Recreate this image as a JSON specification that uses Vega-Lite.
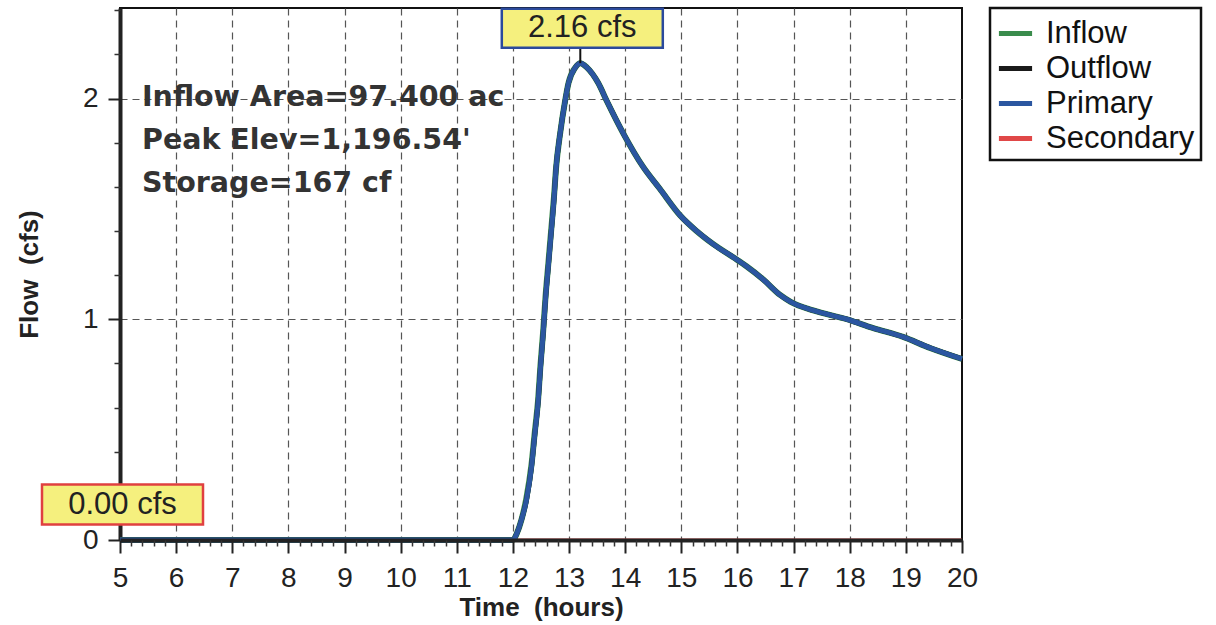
{
  "$schema": "https://vega.github.io/schema/vega-lite/v6.json",
  "width": 842,
  "height": 532,
  "autosize": {"type": "none"},
  "padding": {"left": 120, "top": 8, "right": 254, "bottom": 85},
  "background": "white",
  "config": {
    "font": "Liberation Sans",
    "view": {"stroke": "#111", "strokeWidth": 2}
  },
  "layer": [
    {
      "data": {"values": [
        {"t": 5, "Inflow": 0, "Outflow": 0, "Primary": 0, "Secondary": 0},
        {"t": 6, "Inflow": 0, "Outflow": 0, "Primary": 0, "Secondary": 0},
        {"t": 7, "Inflow": 0, "Outflow": 0, "Primary": 0, "Secondary": 0},
        {"t": 8, "Inflow": 0, "Outflow": 0, "Primary": 0, "Secondary": 0},
        {"t": 9, "Inflow": 0, "Outflow": 0, "Primary": 0, "Secondary": 0},
        {"t": 10, "Inflow": 0, "Outflow": 0, "Primary": 0, "Secondary": 0},
        {"t": 11, "Inflow": 0, "Outflow": 0, "Primary": 0, "Secondary": 0},
        {"t": 11.9, "Inflow": 0, "Outflow": 0, "Primary": 0, "Secondary": 0},
        {"t": 12.0, "Inflow": 0, "Outflow": 0, "Primary": 0, "Secondary": 0},
        {"t": 12.07, "Inflow": 0.03, "Outflow": 0.03, "Primary": 0.03, "Secondary": 0},
        {"t": 12.15, "Inflow": 0.09, "Outflow": 0.09, "Primary": 0.09, "Secondary": 0},
        {"t": 12.24, "Inflow": 0.19, "Outflow": 0.18, "Primary": 0.18, "Secondary": 0},
        {"t": 12.33, "Inflow": 0.34, "Outflow": 0.33, "Primary": 0.33, "Secondary": 0},
        {"t": 12.39, "Inflow": 0.49, "Outflow": 0.48, "Primary": 0.48, "Secondary": 0},
        {"t": 12.45, "Inflow": 0.64, "Outflow": 0.63, "Primary": 0.63, "Secondary": 0},
        {"t": 12.49, "Inflow": 0.79, "Outflow": 0.78, "Primary": 0.78, "Secondary": 0},
        {"t": 12.54, "Inflow": 0.95, "Outflow": 0.94, "Primary": 0.94, "Secondary": 0},
        {"t": 12.58, "Inflow": 1.1, "Outflow": 1.09, "Primary": 1.09, "Secondary": 0},
        {"t": 12.63, "Inflow": 1.25, "Outflow": 1.24, "Primary": 1.24, "Secondary": 0},
        {"t": 12.68, "Inflow": 1.4, "Outflow": 1.39, "Primary": 1.39, "Secondary": 0},
        {"t": 12.73, "Inflow": 1.55, "Outflow": 1.54, "Primary": 1.54, "Secondary": 0},
        {"t": 12.77, "Inflow": 1.69, "Outflow": 1.69, "Primary": 1.69, "Secondary": 0},
        {"t": 12.84, "Inflow": 1.84, "Outflow": 1.84, "Primary": 1.84, "Secondary": 0},
        {"t": 12.93, "Inflow": 1.99, "Outflow": 1.99, "Primary": 1.99, "Secondary": 0},
        {"t": 12.99, "Inflow": 2.07, "Outflow": 2.07, "Primary": 2.07, "Secondary": 0},
        {"t": 13.11, "Inflow": 2.14, "Outflow": 2.14, "Primary": 2.14, "Secondary": 0},
        {"t": 13.2, "Inflow": 2.16, "Outflow": 2.16, "Primary": 2.16, "Secondary": 0},
        {"t": 13.32, "Inflow": 2.14, "Outflow": 2.14, "Primary": 2.14, "Secondary": 0},
        {"t": 13.52, "Inflow": 2.07, "Outflow": 2.07, "Primary": 2.07, "Secondary": 0},
        {"t": 13.67, "Inflow": 1.99, "Outflow": 1.99, "Primary": 1.99, "Secondary": 0},
        {"t": 13.97, "Inflow": 1.84, "Outflow": 1.84, "Primary": 1.84, "Secondary": 0},
        {"t": 14.32, "Inflow": 1.69, "Outflow": 1.69, "Primary": 1.69, "Secondary": 0},
        {"t": 14.62, "Inflow": 1.59, "Outflow": 1.59, "Primary": 1.59, "Secondary": 0},
        {"t": 14.98, "Inflow": 1.47, "Outflow": 1.47, "Primary": 1.47, "Secondary": 0},
        {"t": 15.27, "Inflow": 1.4, "Outflow": 1.4, "Primary": 1.4, "Secondary": 0},
        {"t": 15.57, "Inflow": 1.34, "Outflow": 1.34, "Primary": 1.34, "Secondary": 0},
        {"t": 15.99, "Inflow": 1.27, "Outflow": 1.27, "Primary": 1.27, "Secondary": 0},
        {"t": 16.16, "Inflow": 1.24, "Outflow": 1.24, "Primary": 1.24, "Secondary": 0},
        {"t": 16.46, "Inflow": 1.18, "Outflow": 1.18, "Primary": 1.18, "Secondary": 0},
        {"t": 16.76, "Inflow": 1.11, "Outflow": 1.11, "Primary": 1.11, "Secondary": 0},
        {"t": 16.94, "Inflow": 1.08, "Outflow": 1.08, "Primary": 1.08, "Secondary": 0},
        {"t": 17.35, "Inflow": 1.04, "Outflow": 1.04, "Primary": 1.04, "Secondary": 0},
        {"t": 17.95, "Inflow": 1.0, "Outflow": 1.0, "Primary": 1.0, "Secondary": 0},
        {"t": 18.42, "Inflow": 0.96, "Outflow": 0.96, "Primary": 0.96, "Secondary": 0},
        {"t": 18.95, "Inflow": 0.92, "Outflow": 0.92, "Primary": 0.92, "Secondary": 0},
        {"t": 19.43, "Inflow": 0.87, "Outflow": 0.87, "Primary": 0.87, "Secondary": 0},
        {"t": 20.0, "Inflow": 0.82, "Outflow": 0.82, "Primary": 0.82, "Secondary": 0}
      ]},
      "transform": [{"fold": ["Inflow", "Outflow", "Primary", "Secondary"], "as": ["series", "flow"]}],
      "encoding": {
        "x": {
          "field": "t", "type": "quantitative",
          "scale": {"domain": [5, 20], "nice": false, "zero": false},
          "axis": {
            "values": [5, 6, 7, 8, 9, 10, 11, 12, 13, 14, 15, 16, 17, 18, 19, 20],
            "zindex": 1,
            "tickSize": 13, "tickWidth": 2, "tickColor": "#222",
            "domainColor": "#222", "domainWidth": 4,
            "labelFontSize": 28, "labelColor": "#222", "labelPadding": 11, "labelFlush": false,
            "grid": false,
            "title": "Time\u00a0\u00a0(hours)", "titleFontSize": 26, "titleFontWeight": "bold",
            "titleColor": "#222", "titlePadding": 2
          }
        },
        "y": {
          "field": "flow", "type": "quantitative",
          "scale": {"domain": [0, 2.41], "nice": false},
          "axis": {
            "values": [0, 1, 2],
            "tickSize": 12, "tickWidth": 2, "tickColor": "#222",
            "domainColor": "#222", "domainWidth": 4,
            "labelFontSize": 28, "labelColor": "#222", "labelPadding": 10,
            "grid": true, "gridDash": [7, 5], "gridColor": "#555", "gridWidth": 1.2,
            "title": "Flow\u00a0\u00a0(cfs)", "titleFontSize": 26, "titleFontWeight": "bold",
            "titleColor": "#222", "titlePadding": 40
          }
        },
        "color": {
          "field": "series", "type": "nominal",
          "scale": {"domain": ["Inflow", "Outflow", "Primary", "Secondary"],
                    "range": ["#3a8c4c", "#1a1a1a", "#2b56a0", "#e04848"]},
          "legend": {
            "title": null, "orient": "none", "legendX": 870, "legendY": 0,
            "symbolType": "stroke", "symbolSize": 1100, "symbolStrokeWidth": 5,
            "labelFontSize": 31, "labelColor": "#111", "labelOffset": 11,
            "rowPadding": -3, "padding": 6,
            "fillColor": "white", "strokeColor": "#111",
            "encode": {"legend": {"update": {"strokeWidth": {"value": 2.5}}}}
          }
        }
      },
      "layer": [
        {"transform": [{"filter": "datum.series === 'Secondary'"}],
         "mark": {"type": "line", "strokeWidth": 3, "interpolate": "monotone"}},
        {"transform": [{"filter": "datum.series === 'Inflow'"}],
         "mark": {"type": "line", "strokeWidth": 6, "interpolate": "monotone"}},
        {"transform": [{"filter": "datum.series === 'Outflow'"}],
         "mark": {"type": "line", "strokeWidth": 5, "interpolate": "monotone"}},
        {"transform": [{"filter": "datum.series === 'Primary'"}],
         "mark": {"type": "line", "strokeWidth": 5, "interpolate": "monotone", "color": "#1f4a8e"},
         "encoding": {"color": {"field": "series", "type": "nominal"}}}
      ]
    },
    {
      "data": {"values": [{}]},
      "mark": {"type": "rule", "color": "#111", "strokeWidth": 2},
      "encoding": {
        "x": {"datum": 13.2, "type": "quantitative", "scale": {"domain": [5, 20], "nice": false, "zero": false},
              "axis": {
                "orient": "bottom", "title": null, "labels": false, "domain": false, "grid": false,
                "tickSize": 6, "tickWidth": 1.5, "tickColor": "#333", "zindex": 1,
                "values": [5.2,5.4,5.6,5.8,6.2,6.4,6.6,6.8,7.2,7.4,7.6,7.8,8.2,8.4,8.6,8.8,9.2,9.4,9.6,9.8,10.2,10.4,10.6,10.8,11.2,11.4,11.6,11.8,12.2,12.4,12.6,12.8,13.2,13.4,13.6,13.8,14.2,14.4,14.6,14.8,15.2,15.4,15.6,15.8,16.2,16.4,16.6,16.8,17.2,17.4,17.6,17.8,18.2,18.4,18.6,18.8,19.2,19.4,19.6,19.8]
              }},
        "y": {"datum": 2.16, "type": "quantitative", "scale": {"domain": [0, 2.41], "nice": false},
              "axis": {
                "orient": "left", "title": null, "labels": false, "domain": false, "grid": false,
                "tickSize": 6, "tickWidth": 1.5, "tickColor": "#333",
                "values": [0.2, 0.4, 0.6, 0.8, 1.2, 1.4, 1.6, 1.8, 2.2, 2.4]
              }},
        "y2": {"datum": 2.38}
      }
    },
    {
      "data": {"values": [{}]},
      "mark": {"type": "rect", "width": 161, "height": 39, "xOffset": 2, "yOffset": -35,
               "fill": "#f5f07e", "stroke": "#2b4a9c", "strokeWidth": 2.5},
      "encoding": {
        "x": {"datum": 13.2, "type": "quantitative",
              "axis": {
                "orient": "bottom", "title": null, "labels": false, "domain": false, "ticks": false,
                "grid": true, "gridDash": [7, 5], "gridColor": "#555", "gridWidth": 1.2, "zindex": 0,
                "values": [6, 7, 8, 9, 10, 11, 12, 13, 14, 15, 16, 17, 18, 19]
              }},
        "y": {"datum": 2.16, "type": "quantitative", "axis": null}
      }
    },
    {
      "data": {"values": [{}]},
      "mark": {"type": "text", "text": "2.16 cfs", "fontSize": 31, "color": "#222",
               "align": "center", "baseline": "middle", "dx": 2, "dy": -35},
      "encoding": {
        "x": {"datum": 13.2, "type": "quantitative", "axis": null},
        "y": {"datum": 2.16, "type": "quantitative", "axis": null}
      }
    },
    {
      "data": {"values": [{}]},
      "mark": {"type": "rect", "width": 161, "height": 40, "xOffset": 2.5, "yOffset": -35.5,
               "fill": "#f5f07e", "stroke": "#e04040", "strokeWidth": 2.5},
      "encoding": {
        "x": {"datum": 5, "type": "quantitative", "axis": null},
        "y": {"datum": 0, "type": "quantitative", "axis": null}
      }
    },
    {
      "data": {"values": [{}]},
      "mark": {"type": "text", "text": "0.00 cfs", "fontSize": 31, "color": "#222",
               "align": "center", "baseline": "middle", "dx": 2.5, "dy": -35.5},
      "encoding": {
        "x": {"datum": 5, "type": "quantitative", "axis": null},
        "y": {"datum": 0, "type": "quantitative", "axis": null}
      }
    },
    {
      "data": {"values": [{}]},
      "mark": {"type": "text", "font": "DejaVu Sans", "fontSize": 28.5, "fontWeight": "bold", "color": "#333",
               "align": "left", "baseline": "top", "dx": 22, "dy": -16, "lineHeight": 43},
      "encoding": {
        "x": {"datum": 5, "type": "quantitative", "axis": null},
        "y": {"datum": 2, "type": "quantitative", "axis": null},
        "text": {"value": ["Inflow Area=97.400 ac", "Peak Elev=1,196.54'", "Storage=167 cf"]}
      }
    }
  ],
  "resolve": {"axis": {"x": "independent", "y": "independent"}}
}
